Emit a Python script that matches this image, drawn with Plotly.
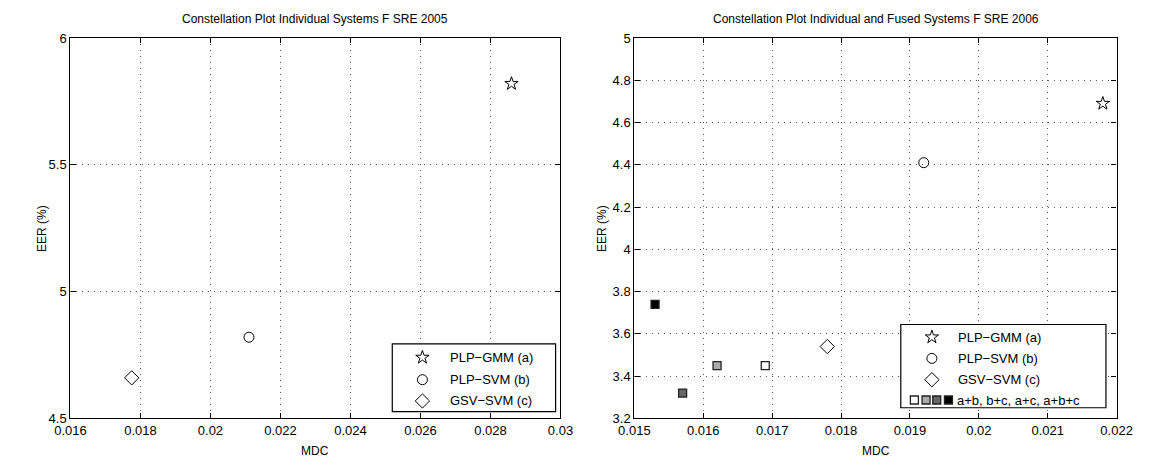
import plotly.graph_objects as go

# ---- data ----
systems = ["PLP\u2212GMM (a)", "PLP\u2212SVM (b)", "GSV\u2212SVM (c)"]
symbols = ["star-open", "circle-open", "diamond-open"]

mdc_2005 = [0.0286, 0.0211, 0.01775]
eer_2005 = [5.82, 4.82, 4.66]

mdc_2006 = [0.0218, 0.0192, 0.0178]
eer_2006 = [4.69, 4.41, 3.54]

fused_names = ["a+b", "b+c", "a+c", "a+b+c"]
fused_mdc = [0.0169, 0.0162, 0.0157, 0.0153]
fused_eer = [3.45, 3.45, 3.32, 3.74]
fused_colors = ["#ffffff", "#ababab", "#666666", "#000000"]

x_ticks_2005 = [0.016, 0.018, 0.02, 0.022, 0.024, 0.026, 0.028, 0.03]
y_ticks_2005 = [4.5, 5, 5.5, 6]
x_ticks_2006 = [0.015, 0.016, 0.017, 0.018, 0.019, 0.02, 0.021, 0.022]
y_ticks_2006 = [3.2, 3.4, 3.6, 3.8, 4, 4.2, 4.4, 4.6, 4.8, 5]

FONT = "Liberation Sans, Arial, sans-serif"
W, H = 1155, 469

fig = go.Figure()

sizes = {"star-open": 10, "circle-open": 10, "diamond-open": 11}

def mk(sym, color="black"):
    return dict(symbol=sym, size=sizes[sym], color=color, line=dict(width=1, color="black"))

for name, sym, x, y in zip(systems, symbols, mdc_2005, eer_2005):
    fig.add_trace(go.Scatter(x=[x], y=[y], mode="markers", name=name, showlegend=False,
                             marker=mk(sym), xaxis="x", yaxis="y"))

for name, sym, x, y in zip(systems, symbols, mdc_2006, eer_2006):
    fig.add_trace(go.Scatter(x=[x], y=[y], mode="markers", name=name, showlegend=False,
                             marker=mk(sym), xaxis="x2", yaxis="y2"))

for name, x, y, c in zip(fused_names, fused_mdc, fused_eer, fused_colors):
    fig.add_trace(go.Scatter(x=[x], y=[y], mode="markers", name=name, showlegend=False,
                             marker=dict(symbol="square", size=8, color=c, line=dict(width=1.3, color="#222222")),
                             xaxis="x2", yaxis="y2"))

# ---- manual legends on a pixel overlay axis ----
def legend_items(x_sym, x_txt, ys, box):
    fig.add_shape(type="rect", xref="x3", yref="y3", x0=box[0], y0=box[1], x1=box[2], y1=box[3],
                  line=dict(color="black", width=1.2), fillcolor="white", layer="between")
    for name, sym, yy in zip(systems, symbols, ys):
        fig.add_trace(go.Scatter(x=[x_sym], y=[yy], mode="markers", showlegend=False, hoverinfo="skip",
                                 marker=mk(sym), xaxis="x3", yaxis="y3"))
        fig.add_annotation(x=x_txt, y=yy, xref="x3", yref="y3", text=name, showarrow=False,
                           xanchor="left", yanchor="middle", font=dict(family=FONT, size=13, color="black"))

legend_items(418, 444, [362, 385, 407], (387, 348, 555, 418))
legend_items(942, 967, [341, 363, 385], (910, 328, 1121, 414))
sq_x = [924, 936, 947, 959]
fig.add_trace(go.Scatter(x=sq_x, y=[406] * 4, mode="markers", showlegend=False, hoverinfo="skip",
                         marker=dict(symbol="square", size=8, color=fused_colors, line=dict(width=1.3, color="#222222")),
                         xaxis="x3", yaxis="y3"))
fig.add_annotation(x=966, y=406, xref="x3", yref="y3", text=", ".join(fused_names), showarrow=False,
                   xanchor="left", yanchor="middle", font=dict(family=FONT, size=13, color="black"))

# ---- axes ----
def axis_common():
    return dict(showline=True, linecolor="black", linewidth=1.3, mirror="ticks", ticks="inside", ticklen=5,
                tickcolor="black", showgrid=True, gridcolor="#555555", griddash="1px,5px", gridwidth=1,
                zeroline=False, tickfont=dict(family=FONT, size=13, color="black"))

x0l, x1l = 56 / W, 560 / W
x0r, x1r = 636 / W, 1132 / W
yb, yt = 1 - 425 / H, 1 - 32 / H

fig.update_layout(
    width=W, height=H, margin=dict(l=0, r=0, t=0, b=0),
    paper_bgcolor="white", plot_bgcolor="rgba(0,0,0,0)",
    xaxis=dict(domain=[x0l, x1l], range=[0.016, 0.03], tickvals=x_ticks_2005,
               ticktext=[f"{v:g}" for v in x_ticks_2005], anchor="y", **axis_common()),
    yaxis=dict(domain=[yb, yt], range=[4.5, 6], tickvals=y_ticks_2005,
               ticktext=[f"{v:g}" for v in y_ticks_2005], anchor="x", **axis_common()),
    xaxis2=dict(domain=[x0r, x1r], range=[0.015, 0.022], tickvals=x_ticks_2006,
                ticktext=[f"{v:g}" for v in x_ticks_2006], anchor="y2", **axis_common()),
    yaxis2=dict(domain=[yb, yt], range=[3.2, 5], tickvals=y_ticks_2006,
                ticktext=[f"{v:g}" for v in y_ticks_2006], anchor="x2", **axis_common()),
    xaxis3=dict(domain=[0, 1], range=[0, W], visible=False, fixedrange=True, anchor="y3", showgrid=False),
    yaxis3=dict(domain=[0, 1], range=[H, 0], visible=False, fixedrange=True, anchor="x3", showgrid=False),
    showlegend=False,
)

# ---- titles ----
def text(x, y, s, size=12, angle=0):
    fig.add_annotation(x=x / W, y=1 - y / H, xref="paper", yref="paper", text=s, showarrow=False,
                       xanchor="center", yanchor="middle", textangle=angle,
                       font=dict(family=FONT, size=size, color="black"))

text(308, 12, "Constellation Plot Individual Systems F SRE 2005", 12)
text(884, 12, "Constellation Plot Individual and Fused Systems F SRE 2006", 12)
text(308, 459, "MDC", 12)
text(884, 459, "MDC", 12)
text(26, 229, "EER (%)", 12, -90)
text(602, 229, "EER (%)", 12, -90)

fig.write_html("out.html")
